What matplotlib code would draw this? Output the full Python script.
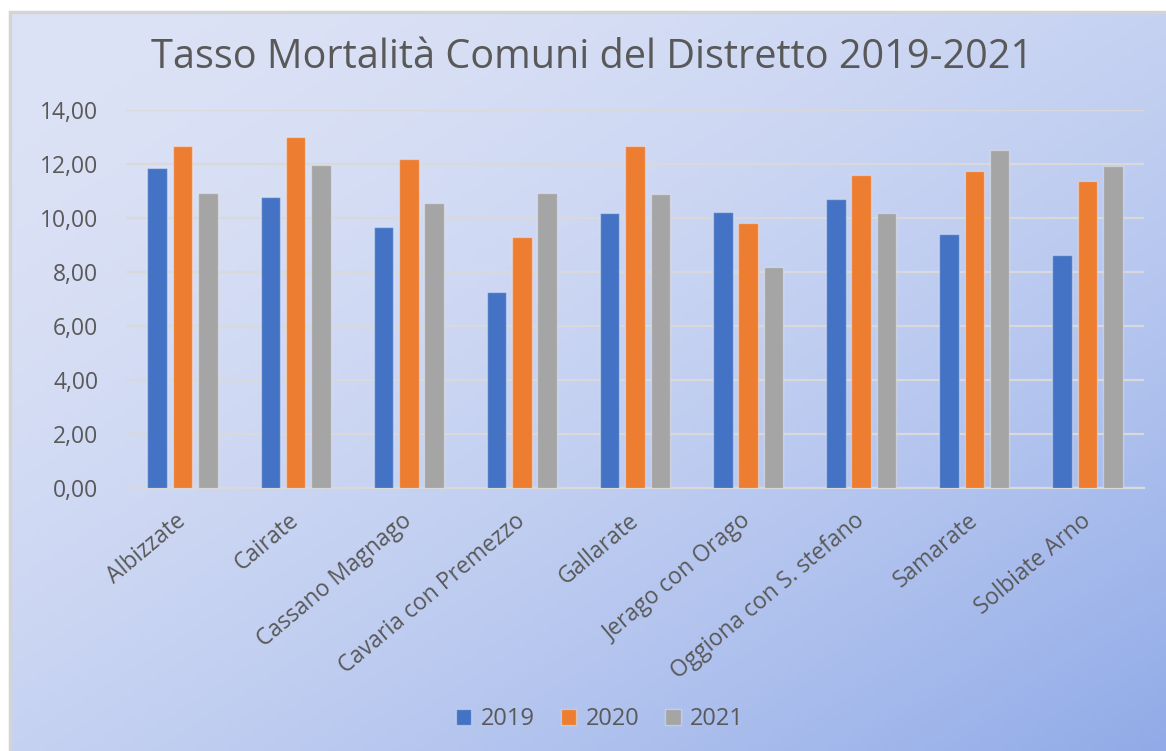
import numpy as np
import matplotlib
matplotlib.use('Agg')
import matplotlib.pyplot as plt
from matplotlib.patches import Rectangle
from matplotlib.ticker import FuncFormatter
from matplotlib.transforms import ScaledTranslation

comuni = ['Albizzate', 'Cairate', 'Cassano Magnago', 'Cavaria con Premezzo',
          'Gallarate', 'Jerago con Orago', 'Oggiona con S. stefano',
          'Samarate', 'Solbiate Arno']
anni = ['2019', '2020', '2021']
tasso_2019 = [11.84, 10.79, 9.65, 7.27, 10.17, 10.22, 10.70, 9.42, 8.62]
tasso_2020 = [12.65, 12.99, 12.17, 9.28, 12.65, 9.80, 11.60, 11.75, 11.37]
tasso_2021 = [10.94, 11.95, 10.57, 10.94, 10.89, 8.17, 10.17, 12.51, 11.94]
colori = ['#4472C4', '#ED7D31', '#A5A5A5']

plt.rcParams['font.family'] = ['Open Sans', 'DejaVu Sans']
testo = '#595959'

W, H = 1166, 751
fig = plt.figure(figsize=(W / 100, H / 100), dpi=100)
fig.patch.set_facecolor('white')

# gradient background of the chart area
bg = fig.add_axes([12 / W, 0, 1 - 12 / W, 1 - 12 / H], zorder=-10)
gx, gy = np.meshgrid(np.linspace(0, 1, 300), np.linspace(0, 1, 200))
t = ((gx + gy) / 2) ** 1.7
c0 = np.array([221, 227, 246]) / 255
c1 = np.array([145, 171, 232]) / 255
img = c0[None, None, :] * (1 - t[..., None]) + c1[None, None, :] * t[..., None]
bg.imshow(img, extent=[0, 1, 0, 1], origin='upper', aspect='auto')
bg.set_xlim(0, 1)
bg.set_ylim(0, 1)
bg.axis('off')
fig.patches.append(Rectangle((10 / W, -0.01), 1.2, 1 - 10 / H + 0.01 - 1.5 / H,
                             transform=fig.transFigure, fill=False,
                             edgecolor='#d4d4d4', linewidth=2.5, zorder=-5))

ax = fig.add_axes([126 / W, 1 - 488 / H, (1144 - 126) / W, (488 - 110) / H])
ax.set_facecolor('none')

x = np.arange(len(comuni))
larg = 0.172
passo = 0.224
for i, (serie, col, anno) in enumerate(zip([tasso_2019, tasso_2020, tasso_2021], colori, anni)):
    ax.bar(x + (i - 1) * passo, serie, width=larg, color=col, label=anno,
           edgecolor=(1, 1, 1, 0.35), linewidth=1.0, zorder=3)

ax.set_xlim(-0.5, len(comuni) - 0.5)
ax.set_ylim(0, 14)
ax.set_yticks(np.arange(0, 15, 2))
ax.yaxis.set_major_formatter(FuncFormatter(lambda v, p: f'{v:.2f}'.replace('.', ',')))
ax.yaxis.grid(True, color='#d9d9d9', linewidth=1.6, zorder=0)
for s in ['top', 'right', 'left']:
    ax.spines[s].set_visible(False)
ax.spines['bottom'].set_color('#d9d9d9')
ax.spines['bottom'].set_linewidth(1.6)
ax.tick_params(axis='y', length=0, pad=20, labelsize=16.5, labelcolor=testo)
ax.tick_params(axis='x', length=0, pad=15, labelsize=16.5, labelcolor=testo)
ax.set_xticks(x)
ax.set_xticklabels(comuni, rotation=40, ha='right')
off = ScaledTranslation(6 / 72, 0, fig.dpi_scale_trans)
for lab in ax.get_xticklabels():
    lab.set_transform(lab.get_transform() + off)

fig.text(592 / W, 1 - 68 / H, 'Tasso Mortalità Comuni del Distretto 2019-2021',
         ha='center', va='baseline', fontsize=28.5, color=testo)

fig.legend(loc='center', bbox_to_anchor=(600 / W, 1 - 719 / H), ncol=3,
           frameon=False, fontsize=17, labelcolor=testo, handlelength=0.65,
           handleheight=0.65, handletextpad=0.4, columnspacing=1.1)

fig.savefig('out.png', dpi=100)
